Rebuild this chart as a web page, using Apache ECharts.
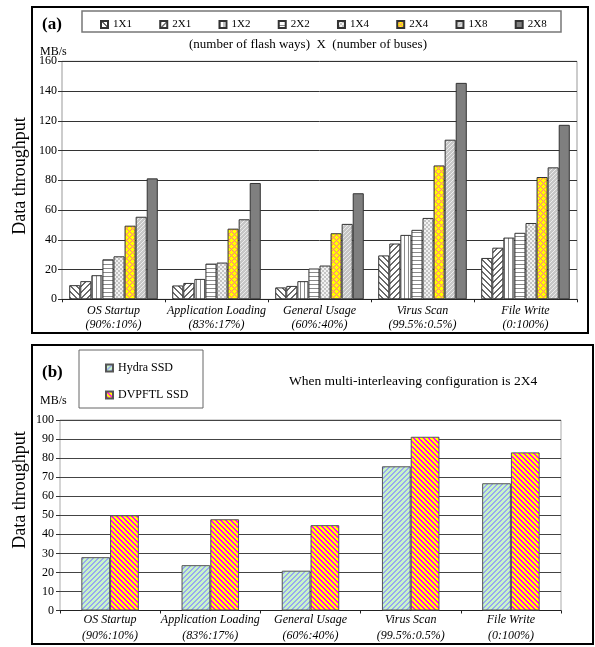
<!DOCTYPE html>
<html>
<head>
<meta charset="utf-8">
<script src="https://cdn.jsdelivr.net/npm/echarts@6/dist/echarts.min.js"></script>
<style>
html,body{margin:0;padding:0;background:#fff;}
#main{width:595px;height:647px;}
</style>
</head>
<body>
<div id="main"></div>
<script>
// ---------- DATA ----------
const categories = ['OS Startup', 'Application Loading', 'General Usage', 'Virus Scan', 'File Write'];
const ratios = ['(90%:10%)', '(83%:17%)', '(60%:40%)', '(99.5%:0.5%)', '(0:100%)'];
const configs = ['1X1', '2X1', '1X2', '2X2', '1X4', '2X4', '1X8', '2X8'];
const v1X1 = [9.5, 9.3, 8.0, 29.5, 27.8];
const v2X1 = [12.2, 11.0, 9.0, 37.5, 34.7];
const v1X2 = [16.2, 13.7, 12.2, 43.3, 41.5];
const v2X2 = [26.9, 24.0, 20.7, 46.7, 44.7];
const v1X4 = [28.9, 24.7, 22.7, 54.7, 51.3];
const v2X4 = [49.5, 47.5, 44.4, 90.0, 82.2];
const v1X8 = [55.5, 53.8, 50.7, 107.3, 88.7];
const v2X8 = [81.3, 78.2, 71.3, 145.5, 117.3];
const ssdNames = ['Hydra SSD', 'DVPFTL SSD'];
const hydra = [28.0, 23.8, 20.9, 75.7, 66.8];
const dvpftl = [50.0, 47.9, 44.8, 91.2, 83.0];
const ticksA = [0, 20, 40, 60, 80, 100, 120, 140, 160];
const ticksB = [0, 10, 20, 30, 40, 50, 60, 70, 80, 90, 100];

// ---------- PATTERNS ----------
function pix(w, h, bg, fg, fn) {
  const c = document.createElement('canvas');
  c.width = w; c.height = h;
  const ctx = c.getContext('2d');
  ctx.fillStyle = bg; ctx.fillRect(0, 0, w, h);
  ctx.fillStyle = fg;
  for (let y = 0; y < h; y++) for (let x = 0; x < w; x++) {
    if (fn(x, y)) ctx.fillRect(x, y, 1, 1);
  }
  return { image: c, repeat: 'repeat' };
}
const pats = {
  '1X1': pix(6, 6, '#ffffff', '#6a6a6a', (x, y) => ((x - y + 60) % 6) < 2),
  '2X1': pix(6, 6, '#ffffff', '#6a6a6a', (x, y) => ((x + y) % 6) < 2),
  '1X2': pix(4, 4, '#ffffff', '#8a8a8a', (x, y) => (x % 4) < 1),
  '2X2': pix(4, 4, '#ffffff', '#8a8a8a', (x, y) => (y % 4) < 1),
  '1X4': pix(4, 4, '#f2f2f2', '#c4c4c4', (x, y) => (((x >> 1) + (y >> 1)) % 2) === 0),
  '2X4': pix(6, 6, '#ffff00', '#ff6a9a', (x, y) => ((x + y) % 6) === 0 || ((x - y + 60) % 6) === 0),
  '1X8': pix(4, 4, '#c6c6c6', '#ececec', (x, y) => ((x + y) % 4) === 0),
  '2X8': '#7f7f7f'
};
const patHydra = pix(5, 5, '#c8f5c8', '#99a8f0', (x, y) => ((x + y) % 5) < 2);
const patDvp = pix(5, 5, '#ffff00', '#ff00ff', (x, y) => ((x - y + 50) % 5) < 2);

const valuesA = [v1X1, v2X1, v1X2, v2X2, v1X4, v2X4, v1X8, v2X8];

const FONT = "'Liberation Serif', 'Times New Roman', serif";

const catLabel = {
  fontFamily: FONT, fontStyle: 'italic', fontSize: 12, color: '#000', lineHeight: 14,
  margin: 5, interval: 0,
  formatter: function (v, i) { return v + '\n' + ratios[i]; }
};

const seriesA = configs.map((name, i) => ({
  name: name, type: 'bar', xAxisIndex: 0, yAxisIndex: 0,
  data: valuesA[i],
  barGap: '0%', barCategoryGap: '14%',
  itemStyle: { color: pats[name], borderColor: '#333', borderWidth: 1 },
  emphasis: { disabled: true }
}));
const seriesB = [
  { name: ssdNames[0], type: 'bar', xAxisIndex: 1, yAxisIndex: 1, data: hydra,
    barGap: '0%', barCategoryGap: '42.6%',
    itemStyle: { color: patHydra, borderColor: '#555', borderWidth: 1 }, emphasis: { disabled: true } },
  { name: ssdNames[1], type: 'bar', xAxisIndex: 1, yAxisIndex: 1, data: dvpftl,
    barGap: '0%', barCategoryGap: '42.6%',
    itemStyle: { color: patDvp, borderColor: '#555', borderWidth: 1 }, emphasis: { disabled: true } }
];

const chart = echarts.init(document.getElementById('main'), null, { renderer: 'canvas' });
chart.setOption({
  animation: false,
  backgroundColor: '#fff',
  textStyle: { fontFamily: FONT },
  grid: [
    { left: 62, right: 18, top: 61.3, bottom: 347.7, show: true, borderColor: '#999', borderWidth: 1, backgroundColor: '#fff' },
    { left: 60, right: 34, top: 420, bottom: 36.5, show: true, borderColor: '#aaa', borderWidth: 1, backgroundColor: '#fff' }
  ],
  xAxis: [
    { type: 'category', gridIndex: 0, data: categories,
      axisLine: { lineStyle: { color: '#222', width: 1 } },
      axisTick: { show: true, length: 3, lineStyle: { color: '#222' } },
      axisLabel: catLabel },
    { type: 'category', gridIndex: 1, data: categories,
      axisLine: { lineStyle: { color: '#222', width: 1 } },
      axisTick: { show: true, length: 3, lineStyle: { color: '#222' } },
      axisLabel: Object.assign({}, catLabel, { lineHeight: 16, margin: 1 }) }
  ],
  yAxis: [
    { type: 'value', gridIndex: 0, min: ticksA[0], max: ticksA[ticksA.length - 1], interval: ticksA[1] - ticksA[0],
      axisLine: { show: false },
      axisTick: { show: true, length: 4, lineStyle: { color: '#333' } },
      splitLine: { lineStyle: { color: '#333', width: 1 } },
      axisLabel: { fontFamily: FONT, fontSize: 12, color: '#000', margin: 5 } },
    { type: 'value', gridIndex: 1, min: ticksB[0], max: ticksB[ticksB.length - 1], interval: ticksB[1] - ticksB[0],
      axisLine: { show: false },
      axisTick: { show: true, length: 4, lineStyle: { color: '#333' } },
      splitLine: { lineStyle: { color: '#444', width: 1 } },
      axisLabel: { fontFamily: FONT, fontSize: 12, color: '#000', margin: 6 } }
  ],
  legend: [
    { data: configs, left: 95, top: 14, itemWidth: 7, itemHeight: 7, itemGap: 27.3,
      icon: 'rect', textStyle: { fontFamily: FONT, fontSize: 11, color: '#000' },
      selectedMode: false },
    { data: ssdNames, left: 100, top: 357, orient: 'vertical', itemWidth: 7, itemHeight: 7, itemGap: 15,
      icon: 'rect', textStyle: { fontFamily: FONT, fontSize: 12, color: '#000' },
      selectedMode: false }
  ],
  graphic: [
    { type: 'rect', shape: { x: 32, y: 7, width: 556, height: 326 }, style: { fill: 'none', stroke: '#000', lineWidth: 2 }, z: 100 },
    { type: 'rect', shape: { x: 32, y: 345, width: 561, height: 299 }, style: { fill: 'none', stroke: '#000', lineWidth: 2 }, z: 100 },
    { type: 'rect', shape: { x: 82, y: 11, width: 479, height: 21 }, style: { fill: 'none', stroke: '#777', lineWidth: 1.5 }, z: 100 },
    { type: 'rect', shape: { x: 79, y: 350, width: 124, height: 58 }, style: { fill: 'none', stroke: '#666', lineWidth: 1 }, z: 100 },
    { type: 'text', x: 42, y: 25, style: { text: '(a)', font: 'bold 17px ' + FONT, fill: '#000', textVerticalAlign: 'middle' }, z: 100 },
    { type: 'text', x: 42, y: 373, style: { text: '(b)', font: 'bold 17px ' + FONT, fill: '#000', textVerticalAlign: 'middle' }, z: 100 },
    { type: 'text', x: 40, y: 52, style: { text: 'MB/s', font: '12px ' + FONT, fill: '#000', textVerticalAlign: 'middle' }, z: 100 },
    { type: 'text', x: 40, y: 401, style: { text: 'MB/s', font: '12px ' + FONT, fill: '#000', textVerticalAlign: 'middle' }, z: 100 },
    { type: 'text', x: 308, y: 45, style: { text: '(number of flash ways)  X  (number of buses)', font: '13px ' + FONT, fill: '#000', textAlign: 'center', textVerticalAlign: 'middle' }, z: 100 },
    { type: 'text', x: 289, y: 381, style: { text: 'When multi-interleaving configuration is 2X4', font: '13.5px ' + FONT, fill: '#000', textVerticalAlign: 'middle' }, z: 100 },
    { type: 'text', x: 20, y: 176, rotation: Math.PI / 2, style: { text: 'Data throughput', font: '18px ' + FONT, fill: '#000', textAlign: 'center', textVerticalAlign: 'middle' }, z: 100 },
    { type: 'text', x: 20, y: 490, rotation: Math.PI / 2, style: { text: 'Data throughput', font: '18px ' + FONT, fill: '#000', textAlign: 'center', textVerticalAlign: 'middle' }, z: 100 }
  ],
  series: seriesA.concat(seriesB)
});
</script>
</body>
</html>
